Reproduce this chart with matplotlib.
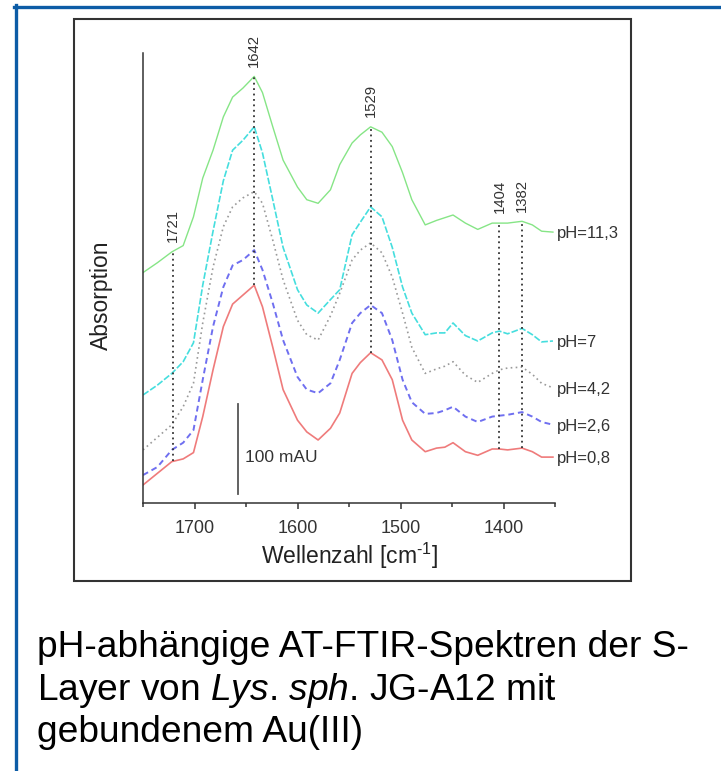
import numpy as np
import matplotlib
matplotlib.use("Agg")
import matplotlib.pyplot as plt
from matplotlib.lines import Line2D
from matplotlib.patches import Rectangle

plt.rcParams['font.family'] = ['Liberation Sans', 'DejaVu Sans']
plt.rcParams['mathtext.fontset'] = 'custom'
plt.rcParams['mathtext.rm'] = 'Liberation Sans'
plt.rcParams['mathtext.it'] = 'Liberation Sans:italic'
plt.rcParams['axes.unicode_minus'] = False

# wavenumbers (cm-1) and absorption (mAU)
wavenumber = [1750, 1736, 1722, 1711, 1701, 1692, 1682, 1672, 1663, 1653,
              1642, 1634, 1624, 1614, 1600, 1591, 1580, 1568, 1559, 1547,
              1539, 1529, 1518, 1508, 1498, 1489, 1476, 1465, 1457, 1449,
              1437, 1425, 1411, 1404, 1396, 1382, 1372, 1363, 1352]

ph_11_3 = [256, 267, 279, 286, 318, 361, 392, 429, 451, 461,
           474, 456, 418, 381, 351, 337, 333, 348, 376, 400,
           409, 418, 412, 396, 367, 337, 309, 314, 317, 320,
           311, 304, 311, 311, 311, 313, 309, 302, 301]
ph_7 = [120, 131, 144, 157, 178, 242, 302, 358, 392, 403,
        418, 389, 337, 284, 237, 220, 211, 226, 237, 298,
        312, 329, 318, 284, 240, 211, 187, 189, 189, 200,
        186, 180, 189, 191, 188, 194, 187, 179, 180]
ph_4_2 = [59, 73, 87, 107, 133, 200, 262, 307, 329, 339,
          346, 333, 292, 248, 203, 187, 181, 208, 233, 270,
          281, 289, 278, 251, 211, 173, 144, 149, 152, 157,
          142, 134, 144, 148, 150, 151, 143, 133, 128]
ph_2_6 = [31, 40, 59, 67, 81, 137, 196, 240, 264, 270,
          281, 259, 222, 181, 140, 126, 122, 133, 159, 200,
          211, 220, 211, 181, 137, 112, 99, 100, 103, 107,
          96, 90, 96, 97, 98, 101, 96, 90, 87]
ph_0_8 = [20, 33, 46, 49, 56, 96, 148, 196, 221, 231,
          242, 218, 173, 126, 92, 79, 70, 83, 100, 144,
          156, 167, 159, 137, 92, 70, 57, 61, 62, 67,
          57, 53, 60, 60, 59, 61, 57, 51, 51]

series_labels = ['pH=11,3', 'pH=7', 'pH=4,2', 'pH=2,6', 'pH=0,8']
peaks = [1721, 1642, 1529, 1404, 1382]

caption = ['pH-abhängige AT-FTIR-Spektren der S-',
           r'Layer von $\it{Lys}$. $\it{sph}$. JG-A12 mit',
           'gebundenem Au(III)']

W, H = 721, 771
fig = plt.figure(figsize=(W / 100, H / 100), dpi=100)

# blue slide frame and black picture box
fig.add_artist(Line2D([15.5 / W, 15.5 / W], [0, 1 - 5 / H], color='#0c5ca6', lw=2.4))
fig.add_artist(Line2D([14 / W, 1], [1 - 6.5 / H, 1 - 6.5 / H], color='#0c5ca6', lw=2.4))
fig.add_artist(Rectangle((74 / W, 1 - 581 / H), 557 / W, 562 / H, transform=fig.transFigure,
                         fill=False, edgecolor='#333333', lw=1.5))

ax = fig.add_axes([143 / W, 1 - 503 / H, 412 / W, 450 / H])

styles = [
    dict(color='#86e586', lw=1.0, ls='-'),
    dict(color='#45dede', lw=1.2, ls=(0, (4, 1.2))),
    dict(color='#9a9a9a', lw=1.2, ls=(0, (1, 2))),
    dict(color='#6f6ff0', lw=1.4, ls=(0, (3, 2))),
    dict(color='#ef7b7b', lw=1.2, ls='-'),
]
all_series = [ph_11_3, ph_7, ph_4_2, ph_2_6, ph_0_8]

for ys, lab, st in zip(all_series, series_labels, styles):
    ax.plot(wavenumber, ys, solid_joinstyle='round', dash_joinstyle='round', **st)
    ax.annotate(lab, xy=(wavenumber[-1], ys[-1]), xytext=(3, -1), textcoords='offset points',
                ha='left', va='center', fontsize=12, color='#333333', annotation_clip=False)

# peak markers: from the lowest to the highest spectrum
wn_inc = wavenumber[::-1]
for p in peaks:
    top = np.interp(p, wn_inc, ph_11_3[::-1])
    bottom = np.interp(p, wn_inc, ph_0_8[::-1])
    ax.plot([p, p], [bottom, top], color='#333333', lw=1.3, ls=(0, (1, 2)))
    ax.annotate(str(p), xy=(p, top), xytext=(0, 7), textcoords='offset points',
                rotation=90, ha='center', va='bottom', fontsize=10.7, color='#333333',
                annotation_clip=False)

# 100 mAU scale bar
ax.plot([1658, 1658], [10, 110], color='#555555', lw=1.3)
ax.text(1651, 51, '100 mAU', ha='left', va='center', fontsize=12.5, color='#333333')

ax.set_xlim(1750, 1350)
ax.set_ylim(0, 500)
ax.set_xticks([1700, 1600, 1500, 1400])
ax.set_xticks([1750, 1650, 1550, 1450, 1350], minor=True)
ax.set_yticks([])
ax.tick_params(axis='x', which='major', length=4, width=1.1, color='#333333',
               pad=8, labelsize=13, labelcolor='#333333')
ax.tick_params(axis='x', which='minor', length=3, width=1.1, color='#333333')
for s in ['top', 'right']:
    ax.spines[s].set_visible(False)
for s in ['left', 'bottom']:
    ax.spines[s].set_color('#333333')
    ax.spines[s].set_linewidth(1.1)

ax.set_xlabel(r'Wellenzahl [cm$^{\text{-}1}$]', fontsize=16.5, color='#222222')
ax.xaxis.set_label_coords(0.5, -0.085)
ax.set_ylabel('Absorption', fontsize=16.5, color='#222222')
ax.yaxis.set_label_coords(-0.073, 0.462)

for i, line in enumerate(caption):
    fig.text(37 / W, 1 - [657, 700, 742][i] / H, line, ha='left', va='baseline',
             fontsize=26.7, color='black')

fig.savefig('out.png', dpi=100, facecolor='white')
